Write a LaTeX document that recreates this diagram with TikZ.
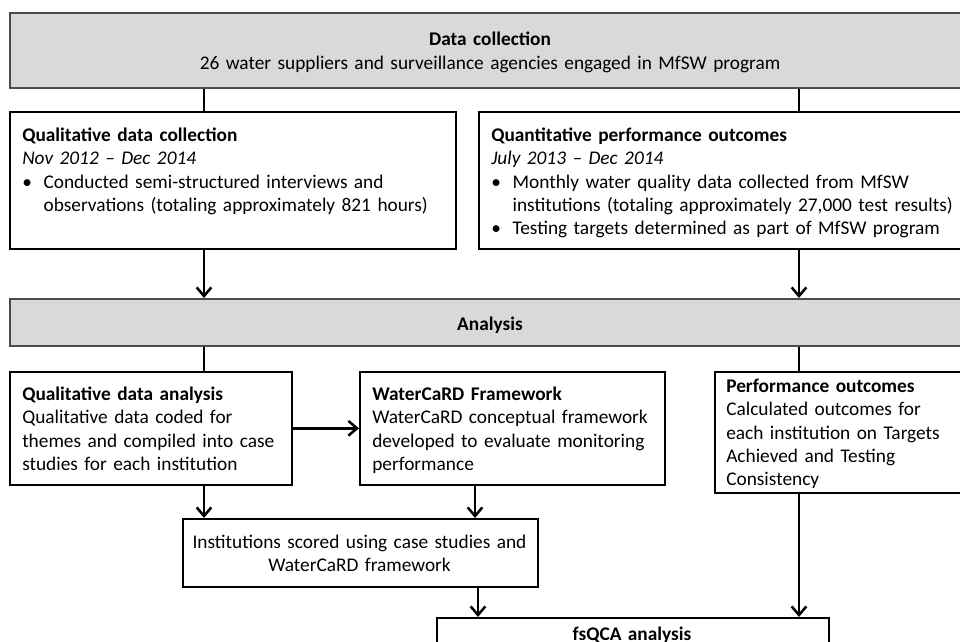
\documentclass[tikz,border=0pt]{standalone}
\usepackage{fontspec}
\setmainfont{Carlito}
\usetikzlibrary{arrows.meta}
\tikzset{
 box/.style={draw, line width=1.2pt, anchor=north west, inner sep=0pt},
 band/.style={box, draw=black!70, fill=black!15},
 txt/.style={anchor=base west, inner sep=0pt, align=left, text width=#1},
 ctxt/.style={anchor=base, inner sep=0pt, align=center, text width=#1},
 link/.style={line width=1.9pt},
 arr/.style={link, -{Straight Barb[length=6.5pt,width=11pt]}}
}
\newcommand{\bul}{\makebox[16pt][l]{•}}
\newcommand{\ind}{\hspace*{16pt}}
\begin{document}
\begin{tikzpicture}[x=0.75pt, y=-0.75pt, every node/.style={font=\fontsize{14.5pt}{17.5pt}\selectfont}]
 \clip (0,0) rectangle (960,642);
 % boxes
 \node[band, minimum width=721.5pt, minimum height=56.25pt] (top) at (9,12) {};
 \node[box, minimum width=334.5pt, minimum height=102.75pt] (qcol) at (9,111) {};
 \node[box, minimum width=369.75pt, minimum height=102.75pt] (quant) at (478,111) {};
 \node[band, minimum width=721.5pt, minimum height=35.25pt] (ana) at (9,298) {};
 \node[box, minimum width=211.5pt, minimum height=84.75pt] (qda) at (9,371) {};
 \node[box, minimum width=228.75pt, minimum height=84.75pt] (wcard) at (359,371) {};
 \node[box, minimum width=192.75pt, minimum height=90.75pt] (perf) at (714,371) {};
 \node[box, minimum width=266.25pt, minimum height=51pt] (inst) at (182,518) {};
 \node[box, minimum width=294pt, minimum height=52.5pt] (fsqca) at (436,617) {};
 % texts
 \node[ctxt=700pt] (top-t) at (490,46) {\textbf{Data collection}\\ 26 water suppliers and surveillance agencies engaged in MfSW program};
 \node[txt=360pt] (qcol-t) at (22,141.5) {\textbf{Qualitative data collection}\\ \textit{Nov 2012 – Dec 2014}\\ \bul Conducted semi-structured interviews and\\ \ind observations (totaling approximately 821 hours)};
 \node[txt=380pt] (quant-t) at (491,141.5) {\textbf{Quantitative performance outcomes}\\ \textit{July 2013 – Dec 2014}\\ \bul Monthly water quality data collected from MfSW\\ \ind institutions (totaling approximately 27,000 test results)\\ \bul Testing targets determined as part of MfSW program};
 \node[ctxt=300pt] (ana-t) at (490,330) {\textbf{Analysis}};
 \node[txt=260pt] (qda-t) at (22,400.5) {\textbf{Qualitative data analysis}\\ Qualitative data coded for\\ themes and compiled into case\\ studies for each institution};
 \node[txt=260pt] (wcard-t) at (372,400.5) {\textbf{WaterCaRD Framework}\\ WaterCaRD conceptual framework\\ developed to evaluate monitoring\\ performance};
 \node[txt=260pt] (perf-t) at (726,392.5) {\textbf{Performance outcomes}\\ Calculated outcomes for\\ each institution on Targets\\ Achieved and Testing\\ Consistency};
 \node[ctxt=300pt] (inst-t) at (359.5,548.5) {Institutions scored using case studies and\\ WaterCaRD framework};
 \node[ctxt=300pt] (fsqca-t) at (632,640) {\textbf{fsQCA analysis}};
 % connectors
 \draw[link] (top.south -| 204,0) -- (qcol.north -| 204,0);
 \draw[link] (top.south -| 799,0) -- (quant.north -| 799,0);
 \draw[arr] (qcol.south -| 204,0) -- (ana.north -| 204,0);
 \draw[arr] (quant.south -| 799,0) -- (ana.north -| 799,0);
 \draw[link] (ana.south -| 204,0) -- (qda.north -| 204,0);
 \draw[link] (ana.south -| 799,0) -- (perf.north -| 799,0);
 \draw[arr] (qda) -- (wcard);
 \draw[arr] (qda.south -| 204,0) -- (inst.north -| 204,0);
 \draw[arr] (wcard.south -| 475,0) -- (inst.north -| 475,0);
 \draw[arr] (inst.south -| 478,0) -- (fsqca.north -| 478,0);
 \draw[arr] (perf.south -| 799,0) -- (fsqca.north -| 799,0);
\end{tikzpicture}
\end{document}
